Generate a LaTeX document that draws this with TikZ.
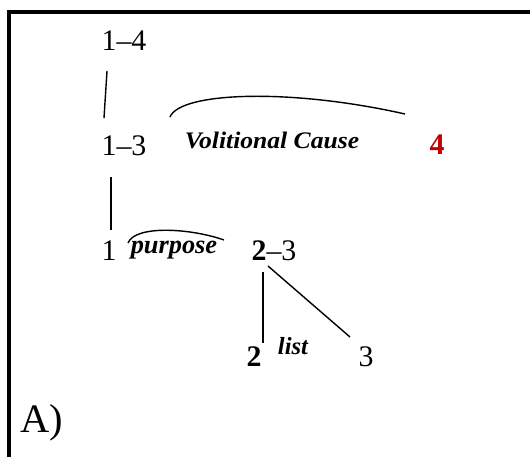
\documentclass[tikz,border=0pt]{standalone}
\usepackage{fontspec}
\setmainfont{Liberation Serif}
\definecolor{nucred}{RGB}{192,0,0}

\begin{document}
\begin{tikzpicture}[x=0.02cm, y=-0.02cm,
    span/.style={anchor=base, inner sep=0pt, font=\fontsize{17}{20}\selectfont},
    rel/.style={anchor=base, inner sep=0pt, font=\bfseries\itshape},
    link/.style={line width=0.8pt}]
            \useasboundingbox (0,0) rectangle (530,457);

            % Frame: top and left edge only
            \draw[line width=2.1pt] (9,457) -- (9,12) -- (530,12);

            % Spans of the tree
            \node[span] (n14) at (124,50) {1--4};
            \node[span] (n13) at (124,155) {1--3};
            \node[span, text=nucred, font=\fontsize{17}{20}\selectfont\bfseries] (n4) at (437,154) {4};
            \node[span] (n1) at (109,260) {1};
            \node[span] (n23) at (274,260) {\textbf{2}--3};
            \node[span, font=\fontsize{17}{20}\selectfont\bfseries] (n2) at (254,366) {2};
            \node[span] (n3) at (366,366) {3};

            % Relation names
            \node[rel, font=\fontsize{13.5}{16}\selectfont\bfseries\itshape] (vc) at (272,148) {\scalebox{1.08}[1]{Volitional Cause}};
            \node[rel, font=\fontsize{15}{18}\selectfont\bfseries\itshape] (pur) at (174,253) {purpose};
            \node[rel, font=\fontsize{14}{17}\selectfont\bfseries\itshape] (lst) at (293,354) {list};

            % Panel label
            \node[span, font=\fontsize{23}{27}\selectfont] (lbl) at (42,432) {A)};

            % Vertical links
            \draw[link] ([shift={(-17,21)}]n14.base) -- ([shift={(-20,-37)}]n13.base);
            \draw[link] ([shift={(-13,22)}]n13.base) -- ([shift={(2,-30)}]n1.base);
            \draw[link] ([shift={(-11,12)}]n23.base) -- ([shift={(9,-23)}]n2.base);
            \draw[link] ([shift={(-6,6)}]n23.base) -- ([shift={(-16,-29)}]n3.base);

            % Relation arcs
            \draw[link] ([shift={(46,-38)}]n13.base) .. controls +(10,-25) and +(-115,-26) .. ([shift={(-32,-40)}]n4.base);
            \draw[link] ([shift={(19,-17)}]n1.base) .. controls +(7,-18) and +(-34,-12) .. ([shift={(-50,-20)}]n23.base);
        \end{tikzpicture}
\end{document}
